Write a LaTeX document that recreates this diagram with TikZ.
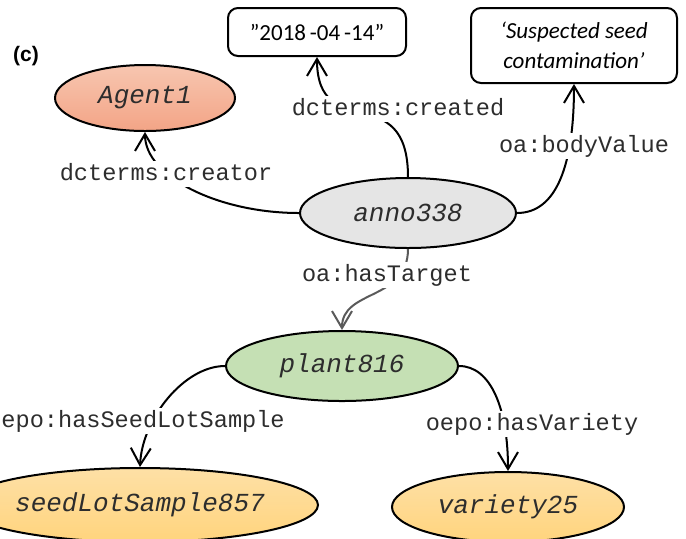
\documentclass[tikz,border=0pt]{standalone}
\usepackage{fontspec}
\setmainfont{Carlito}
\setsansfont{Liberation Sans}
\setmonofont{Liberation Mono}
\usepackage{tikz}
\usetikzlibrary{shapes.geometric, arrows.meta}
\definecolor{rdfText}{RGB}{45, 45, 45}
\definecolor{rdfGray}{RGB}{90, 90, 90}
\definecolor{annoFill}{RGB}{229, 229, 229}
\definecolor{plantFill}{RGB}{197, 224, 180}
\definecolor{agentTop}{RGB}{247, 198, 176}
\definecolor{agentBottom}{RGB}{243, 164, 134}
\definecolor{sampleTop}{RGB}{254, 224, 166}
\definecolor{sampleBottom}{RGB}{255, 212, 125}
\tikzset{
    resource/.style={
        ellipse,
        draw=black,
        line width=1pt,
        inner sep=0pt,
        text=rdfText,
        font=\fontsize{13}{15}\selectfont\ttfamily\itshape
    },
    literal/.style={
        rectangle,
        rounded corners=5pt,
        draw=black,
        line width=1pt,
        fill=white,
        inner sep=0pt,
        align=center,
        font=\fontsize{11.5}{15}\selectfont
    },
    prop/.style={
        font=\fontsize{11.8}{14}\selectfont\ttfamily,
        text=rdfText,
        fill=white,
        inner sep=1pt,
        text height=8.5pt,
        text depth=2.5pt
    },
    flow/.style={
        -{Straight Barb[length=8.5pt, width=10pt]},
        line width=1pt,
        draw=black
    }
}

\begin{document}
\begin{tikzpicture}[x=0.5pt, y=-0.5pt]
  \useasboundingbox (0,0) rectangle (686,538);

  % Panel tag
  \node[font=\sffamily\bfseries\fontsize{10.5}{12}\selectfont] (tag) at (26,56) {(c)};

  % Resources
  \node[resource, minimum width=90pt, minimum height=33pt,
        top color=agentTop, bottom color=agentBottom] (agent) at (145,98) {Agent1};
  \node[resource, minimum width=108pt, minimum height=35pt, fill=annoFill] (anno) at (408,213) {anno338};
  \node[resource, minimum width=116pt, minimum height=35pt, fill=plantFill] (plant) at (342,366) {plant816};
  \node[resource, minimum width=178pt, minimum height=37pt,
        top color=sampleTop, bottom color=sampleBottom] (seed) at (140,505) {seedLotSample857};
  \node[resource, minimum width=116pt, minimum height=35pt,
        top color=sampleTop, bottom color=sampleBottom] (variety) at (508,507) {variety25};

  % Literals
  \node[literal, minimum width=89pt, minimum height=24pt] (date) at (317,32) {\symbol{34}2018\,-04\,-14”};
  \node[literal, minimum width=103pt, minimum height=37.5pt, font=\fontsize{11.5}{15}\selectfont\itshape] (note) at (574,45.5) {‘Suspected seed\\contamination’};

  % Connections
  \draw[flow] (anno.west) .. controls +(-80,0) and +(0,45) .. (agent.south);
  \draw[flow] (anno.north) .. controls +(0,-100) and +(0,88) .. (date.south);
  \draw[flow] (anno.east) .. controls +(40,0) and +(0,80) .. (note.south);
  \draw[flow, draw=rdfGray] (anno.south) .. controls +(0,52) and +(0,-41) .. (plant.north);
  \draw[flow] (plant.west) .. controls +(-41,0) and +(2,-48) .. (seed.north);
  \draw[flow] (plant.east) .. controls +(32,0) and +(0,-62) .. (variety.north);

  % Property labels
  \node[prop] (creator) at (166,174) {dcterms:creator};
  \node[prop] (created) at (398,109) {dcterms:created};
  \node[prop] (body) at (584,146) {oa:bodyValue};
  \node[prop] (target) at (387,275) {oa:hasTarget};
  \node[prop] (sample) at (136,421) {oepo:hasSeedLotSample};
  \node[prop] (hasvar) at (532,424) {oepo:hasVariety};
\end{tikzpicture}
\end{document}
